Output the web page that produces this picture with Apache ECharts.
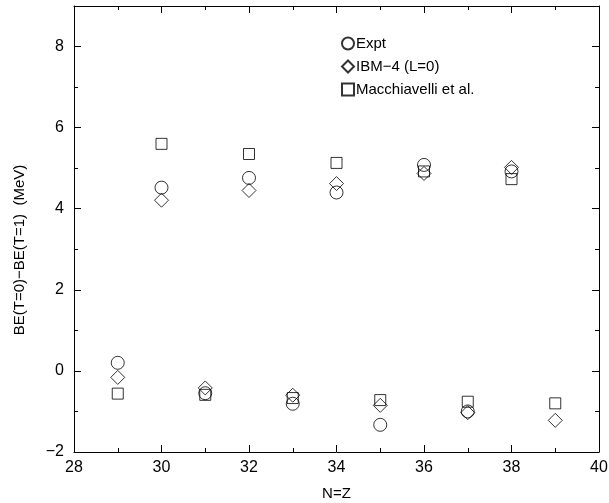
<!DOCTYPE html>
<html>
<head>
<meta charset="utf-8">
<script src="https://cdn.jsdelivr.net/npm/echarts@6/dist/echarts.min.js"></script>
<style>
  html, body { margin: 0; padding: 0; background: #fff; }
  #chart { width: 609px; height: 503px; }
</style>
</head>
<body>
<div id="chart"></div>
<script>
// N=Z values
var nz = [29, 30, 31, 32, 33, 34, 35, 36, 37, 38, 39];
// BE(T=0)-BE(T=1) in MeV
var expt = [0.20, 4.52, -0.55, 4.76, -0.81, 4.40, -1.33, 5.08, -1.00, 4.92, null];
var ibm4 = [-0.16, 4.21, -0.42, 4.45, -0.60, 4.62, -0.85, 4.87, -1.03, 5.02, -1.22];
var macch = [-0.56, 5.60, -0.59, 5.35, -0.67, 5.13, -0.72, 4.92, -0.76, 4.73, -0.80];

function pairs(vals) {
    var out = [];
    for (var i = 0; i < nz.length; i++) {
        if (vals[i] !== null) out.push([nz[i], vals[i]]);
    }
    return out;
}

var font = 'Liberation Sans, Arial, sans-serif';

function xAxisDef(pos, labels) {
    return {
        type: 'value', position: pos, min: 28, max: 40, interval: 2,
        axisLine: { show: true, onZero: false, lineStyle: { color: '#000', width: 1 } },
        axisTick: { show: true, inside: true, length: 7, lineStyle: { color: '#000' } },
        minorTick: { show: true, splitNumber: 2, length: 4, lineStyle: { color: '#000' } },
        axisLabel: {
            fontFamily: font, fontSize: 16, color: '#000', margin: 8,
            formatter: function (v) { return labels ? String(v) : ''; }
        },
        splitLine: { show: false },
        minorSplitLine: { show: false }
    };
}
function yAxisDef(pos, labels) {
    return {
        type: 'value', position: pos, min: -2, max: 9, interval: 2,
        axisLine: { show: true, onZero: false, lineStyle: { color: '#000', width: 1 } },
        axisTick: { show: true, inside: true, length: 7, lineStyle: { color: '#000' } },
        minorTick: { show: true, splitNumber: 2, length: 4, lineStyle: { color: '#000' } },
        axisLabel: {
            fontFamily: font, fontSize: 16, color: '#000', margin: 10, showMaxLabel: false,
            formatter: function (v) {
                if (!labels || v > 8) return '';
                return v < 0 ? '\u2212' + (-v) : String(v);
            }
        },
        splitLine: { show: false },
        minorSplitLine: { show: false }
    };
}

var xAxes = [xAxisDef('bottom', true), xAxisDef('top', false)];
xAxes[0].name = 'N=Z';
xAxes[0].nameLocation = 'middle';
xAxes[0].nameGap = 34;
xAxes[0].nameTextStyle = { fontFamily: font, fontSize: 15, color: '#000' };

var yAxes = [yAxisDef('left', true), yAxisDef('right', false)];

function seriesDef(name, symbol, size, vals) {
    return {
        name: name, type: 'scatter', symbol: symbol, symbolSize: size,
        xAxisIndex: 0, yAxisIndex: 0,
        itemStyle: { color: 'rgba(0,0,0,0)', borderColor: '#000', borderWidth: 1 },
        data: pairs(vals)
    };
}

var chart = echarts.init(document.getElementById('chart'));
chart.setOption({
    animation: false,
    backgroundColor: '#fff',
    grid: { left: 74, right: 10, top: 6, bottom: 51, outerBoundsMode: 'none' },
    legend: {
        orient: 'vertical', left: 336, top: 31, itemGap: 8,
        itemWidth: 12, itemHeight: 12,
        textStyle: { fontFamily: font, fontSize: 15, color: '#000', padding: [0, 0, 0, -3] },
        data: ['Expt', 'IBM\u22124 (L=0)', 'Macchiavelli et al.']
    },
    xAxis: xAxes,
    yAxis: yAxes,
    graphic: [{
        type: 'text', x: 20, y: 250, rotation: Math.PI / 2,
        style: {
            text: 'BE(T=0)\u2212BE(T=1)  (MeV)', fontFamily: font, fontSize: 15, fill: '#000',
            textAlign: 'center', textVerticalAlign: 'middle'
        }
    }],
    series: [
        seriesDef('Expt', 'circle', 13, expt),
        seriesDef('IBM\u22124 (L=0)', 'diamond', 14, ibm4),
        seriesDef('Macchiavelli et al.', 'rect', 11, macch)
    ]
});
</script>
</body>
</html>
